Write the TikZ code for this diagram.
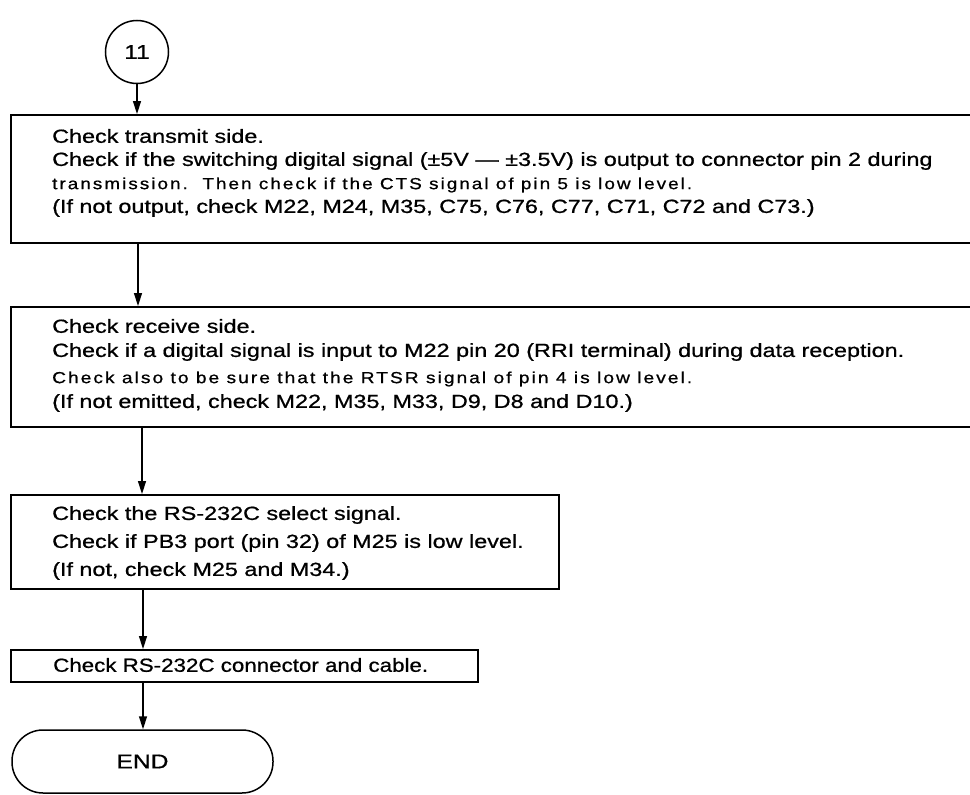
\documentclass[tikz,border=0pt]{standalone}
\usepackage{graphicx}
\usepackage{fontspec}
\setmainfont{Liberation Sans}[FakeStretch=1.23,FakeBold=0.8]
\newfontfamily\smallfnt{Liberation Sans}[FakeStretch=1.12,LetterSpace=12,FakeBold=0.8]
\usetikzlibrary{arrows.meta}
\tikzset{
  box/.style={draw, line width=1.5pt, inner sep=0pt},
  txt/.style={anchor=west, inner sep=0pt, font=\fontsize{19}{22}\selectfont},
  stxt/.style={anchor=west, inner sep=0pt, font=\smallfnt\fontsize{16}{20}\selectfont},
  arr/.style={line width=1.5pt, -{Triangle[length=13pt,width=8pt]}},
}
\begin{document}
\begin{tikzpicture}[x=1pt,y=-1pt]
\useasboundingbox (0,0) rectangle (970,795);
% start connector
\node[draw, circle, line width=1.5pt, minimum size=63pt, inner sep=0pt, font=\fontsize{20}{22}\selectfont] (c11) at (137,52) {11};
% box 1
\node[box, anchor=north west, minimum width=990pt, minimum height=128pt] (box1) at (10,114) {};
\node[txt] (t11) at (52,136) {Check transmit side.};
\node[txt] (t12) at (52,161) {Check if the switching digital signal (±5V — ±3.5V) is output to connector pin 2 during};
\node[stxt] (t13) at (52,185) {\resizebox{640pt}{\height}{transmission.\ \ Then check if the CTS signal of pin 5 is low level.}};
\node[txt] (t14) at (52,208) {(If not output, check M22, M24, M35, C75, C76, C77, C71, C72 and C73.)};
% box 2
\node[box, anchor=north west, minimum width=990pt, minimum height=120pt] (box2) at (10,306) {};
\node[txt] (t21) at (52,326) {Check receive side.};
\node[txt] (t22) at (52,352) {Check if a digital signal is input to M22 pin 20 (RRI terminal) during data reception.};
\node[stxt] (t23) at (52,379) {\resizebox{640pt}{\height}{Check also to be sure that the RTSR signal of pin 4 is low level.}};
\node[txt] (t24) at (52,403) {(If not emitted, check M22, M35, M33, D9, D8 and D10.)};
% box 3
\node[box, anchor=north west, minimum width=548pt, minimum height=94pt] (box3) at (10,494) {};
\node[txt] (t31) at (52,515) {Check the RS-232C select signal.};
\node[txt] (t32) at (52,543) {Check if PB3 port (pin 32) of M25 is low level.};
\node[txt] (t33) at (52,571) {(If not, check M25 and M34.)};
% box 4
\node[box, anchor=north west, minimum width=467pt, minimum height=32pt] (box4) at (10,649) {};
\node[txt] (t41) at (53,665) {\resizebox{375pt}{\height}{Check RS-232C connector and cable.}};
% end terminal
\node[draw, line width=1.5pt, rounded corners=31pt, minimum width=261pt, minimum height=63pt, inner sep=0pt, font=\fontsize{20}{22}\selectfont] (end) at (142.5,761.5) {END};
% connectors
\draw[arr] (c11.south) -- (c11.south |- box1.north);
\draw[arr] ([xshift=1pt]c11.south |- box1.south) -- ([xshift=1pt]c11.south |- box2.north);
\draw[arr] ([xshift=5pt]c11.south |- box2.south) -- ([xshift=5pt]c11.south |- box3.north);
\draw[arr] ([xshift=6pt]c11.south |- box3.south) -- ([xshift=6pt]c11.south |- box4.north);
\draw[arr] ([xshift=6pt]c11.south |- box4.south) -- ([xshift=6pt]c11.south |- end.north);
\end{tikzpicture}
\end{document}
